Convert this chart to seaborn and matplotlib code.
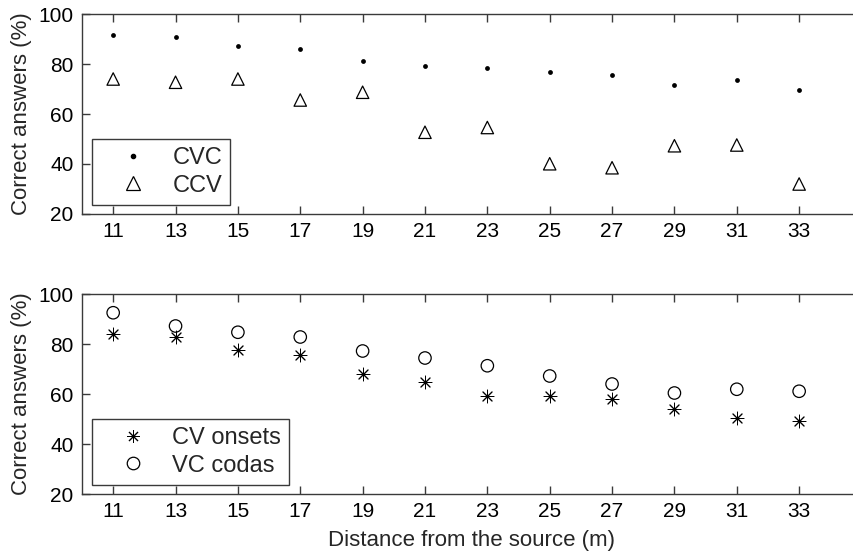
import matplotlib
matplotlib.use("Agg")
import matplotlib.pyplot as plt
import seaborn as sns
import pandas as pd
from matplotlib.lines import Line2D

distance = [11, 13, 15, 17, 19, 21, 23, 25, 27, 29, 31, 33]
cvc = [91.6, 90.7, 87.3, 86.1, 81.1, 79.1, 78.3, 76.7, 75.5, 71.7, 73.7, 69.6]
ccv = [74.0, 72.7, 74.0, 65.6, 68.7, 52.7, 54.6, 40.1, 38.5, 47.3, 47.6, 32.0]
cv_onsets = [84.1, 82.9, 77.6, 75.6, 68.0, 64.8, 59.2, 59.2, 57.9, 53.9, 50.5, 49.1]
vc_codas = [92.5, 87.2, 84.7, 82.8, 77.2, 74.4, 71.3, 67.2, 64.0, 60.4, 61.9, 61.1]
yticks = [20, 40, 60, 80, 100]

sns.set_theme(style="white")
plt.rcParams['font.family'] = ['Liberation Sans', 'DejaVu Sans']

W, H = 854, 554
fig = plt.figure(figsize=(W / 100, H / 100), dpi=100)

def px_axes(left, top, right, bottom):
    return fig.add_axes([left / W, 1 - bottom / H, (right - left) / W, (bottom - top) / H])

ax1 = px_axes(82, 14, 861.5, 214)
ax2 = px_axes(82, 294, 861.5, 494)

df_top = pd.DataFrame({"d": distance, "cvc": cvc, "ccv": ccv})
df_bot = pd.DataFrame({"d": distance, "on": cv_onsets, "co": vc_codas})

asterisk = (8, 2, 0)

sns.scatterplot(data=df_top, x="d", y="cvc", ax=ax1, marker="o", s=12,
                color="black", edgecolor="black", linewidth=0, legend=False)
sns.scatterplot(data=df_top, x="d", y="ccv", ax=ax1, marker="^", s=80,
                facecolor="none", edgecolor="black", linewidth=0.9, legend=False)
sns.scatterplot(data=df_bot, x="d", y="on", ax=ax2, marker=asterisk, s=85,
                color="black", linewidth=0.7, legend=False)
sns.scatterplot(data=df_bot, x="d", y="co", ax=ax2, marker="o", s=80,
                facecolor="none", edgecolor="black", linewidth=0.9, legend=False)

spine_col = "#3a3a3a"
for ax in (ax1, ax2):
    ax.set_xlim(10, 35)
    ax.set_ylim(20, 100)
    ax.set_xticks(distance)
    ax.set_xticklabels([str(d) for d in distance])
    ax.set_yticks(yticks)
    ax.set_yticklabels([str(v) for v in yticks])
    ax.tick_params(axis="both", direction="in", length=5.5, width=1, color=spine_col,
                   labelsize=15, top=True, bottom=True, left=True, right=True,
                   labelcolor="black", pad=6)
    for s in ax.spines.values():
        s.set_visible(True)
        s.set_color(spine_col)
        s.set_linewidth(1)
    ax.set_ylabel("Correct answers (%)", fontsize=16, labelpad=5)
    ax.set_xlabel("")
    ax.grid(False)

ax2.set_xlabel("Distance from the source (m)", fontsize=16, labelpad=6)

h1 = [Line2D([], [], linestyle="none", marker="o", markersize=3.0, color="black"),
      Line2D([], [], linestyle="none", marker="^", markersize=9.5, markerfacecolor="none",
             markeredgecolor="black", markeredgewidth=0.9)]
h2 = [Line2D([], [], linestyle="none", marker=asterisk, markersize=9.2, color="black",
             markeredgewidth=0.7),
      Line2D([], [], linestyle="none", marker="o", markersize=9, markerfacecolor="none",
             markeredgecolor="black", markeredgewidth=0.9)]

for ax, h, labels in ((ax1, h1, ["CVC", "CCV"]), (ax2, h2, ["CV onsets", "VC codas"])):
    leg = ax.legend(h, labels, loc="lower left", bbox_to_anchor=(10 / 779.5, 9 / 200),
                    fontsize=17, frameon=True, fancybox=False, borderpad=0.35,
                    handlelength=2.75, handletextpad=0.3, labelspacing=0.25,
                    borderaxespad=0)
    fr = leg.get_frame()
    fr.set_edgecolor(spine_col)
    fr.set_linewidth(1)
    fr.set_alpha(1)

fig.savefig("out.png", dpi=100)
